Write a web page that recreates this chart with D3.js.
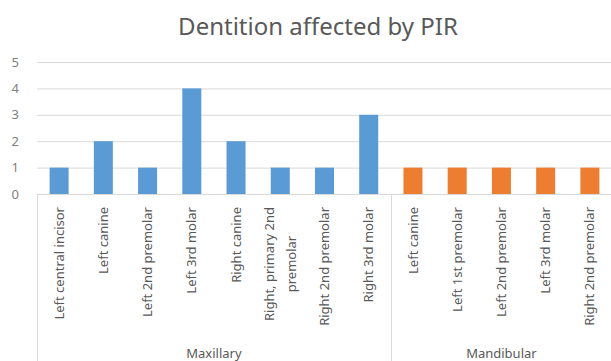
<!DOCTYPE html>
<html><head><meta charset="utf-8">
<script src="https://cdn.jsdelivr.net/npm/d3@7"></script>
<style>body{margin:0;background:#fff}</style>
</head><body>
<svg id="c" width="611" height="361"></svg>
<script>
const title = "Dentition affected by PIR";
const categories = ["Left central incisor","Left canine","Left 2nd premolar","Left 3rd molar","Right canine","Right, primary 2nd|premolar","Right 2nd premolar","Right 3rd molar","Left canine","Left 1st premolar","Left 2nd premolar","Left 3rd molar","Right 2nd premolar"];
const values = [1,2,1,4,2,1,1,3,1,1,1,1,1];
const groupNames = ["Maxillary","Mandibular"];
const groupSizes = [8,5];
const groupColors = ["#5b9bd5","#ed7d31"];
const yTicks = [0,1,2,3,4,5];

(function(){
const svg = d3.select("#c");
const font = "'Noto Sans', sans-serif";
const pL = 37, pR = 612, pT = 62, pB = 194;
const ids = categories.map((c,i)=>i);
const x = d3.scaleBand().domain(ids).range([pL,pR]).paddingInner(0.57).paddingOuter(0.285);
const y = d3.scaleLinear().domain([0,5]).range([pB,pT]);
const groupOf = i => { let s=0; for(let g=0;g<groupSizes.length;g++){ s+=groupSizes[g]; if(i<s) return g;} return groupSizes.length-1; };

svg.append("text").attr("x",318).attr("y",35).attr("text-anchor","middle")
  .attr("font-family",font).attr("font-size",24).attr("fill","#595959").text(title);

const yAxis = d3.axisLeft(y).tickValues(yTicks).tickSize(-(pR-pL)).tickFormat(d3.format("d"));
const ga = svg.append("g").attr("transform",`translate(${pL},0)`).call(yAxis);
ga.select(".domain").remove();
ga.selectAll(".tick line").attr("stroke","#d9d9d9").attr("stroke-width",1);
ga.selectAll(".tick text").attr("x",-18).attr("font-family",font).attr("font-size",13).attr("fill","#808080");
ga.selectAll(".tick").filter(d=>d===0).select("line").remove();

svg.append("g").selectAll("rect").data(ids).join("rect")
  .attr("x",i=>x(i)).attr("width",x.bandwidth())
  .attr("y",i=>y(values[i])).attr("height",i=>y(0)-y(values[i]))
  .attr("fill",i=>groupColors[groupOf(i)]);

svg.append("line").attr("x1",pL).attr("x2",pR).attr("y1",y(0)+0.5).attr("y2",y(0)+0.5).attr("stroke","#d9d9d9");
let acc=0; const seps=[0];
groupSizes.forEach(s=>{acc+=s; seps.push(acc);});
const step = x.step();
const sepX = k => pL + k*step;
seps.forEach(k=>{
  const xx = Math.round(sepX(k))+0.5;
  svg.append("line").attr("x1",xx).attr("x2",xx).attr("y1",y(0)).attr("y2",361).attr("stroke","#d9d9d9");
});

const lab = svg.append("g");
ids.forEach(i=>{
  const cx = x(i)+x.bandwidth()/2;
  const lines = categories[i].split("|");
  const g = lab.append("g").attr("transform",`translate(${cx},207) rotate(-90)`);
  const n = lines.length;
  const texts = lines.map((l,j)=>g.append("text").attr("font-family",font).attr("font-size",13).attr("fill","#595959")
     .attr("y",(j-(n-1)/2)*22).attr("dy","0.35em").text(l));
  const lens = texts.map(t=>t.node().getComputedTextLength());
  const maxL = Math.max(...lens);
  texts.forEach((t,j)=>t.attr("text-anchor","middle").attr("x",-maxL/2));
});

let st=0;
groupNames.forEach((gname,g)=>{
  const a = sepX(st), b = sepX(st+groupSizes[g]);
  svg.append("text").attr("x",(a+b)/2).attr("y",358).attr("text-anchor","middle")
    .attr("font-family",font).attr("font-size",13).attr("fill","#595959").text(gname);
  st+=groupSizes[g];
});
})();
</script>
</body></html>
